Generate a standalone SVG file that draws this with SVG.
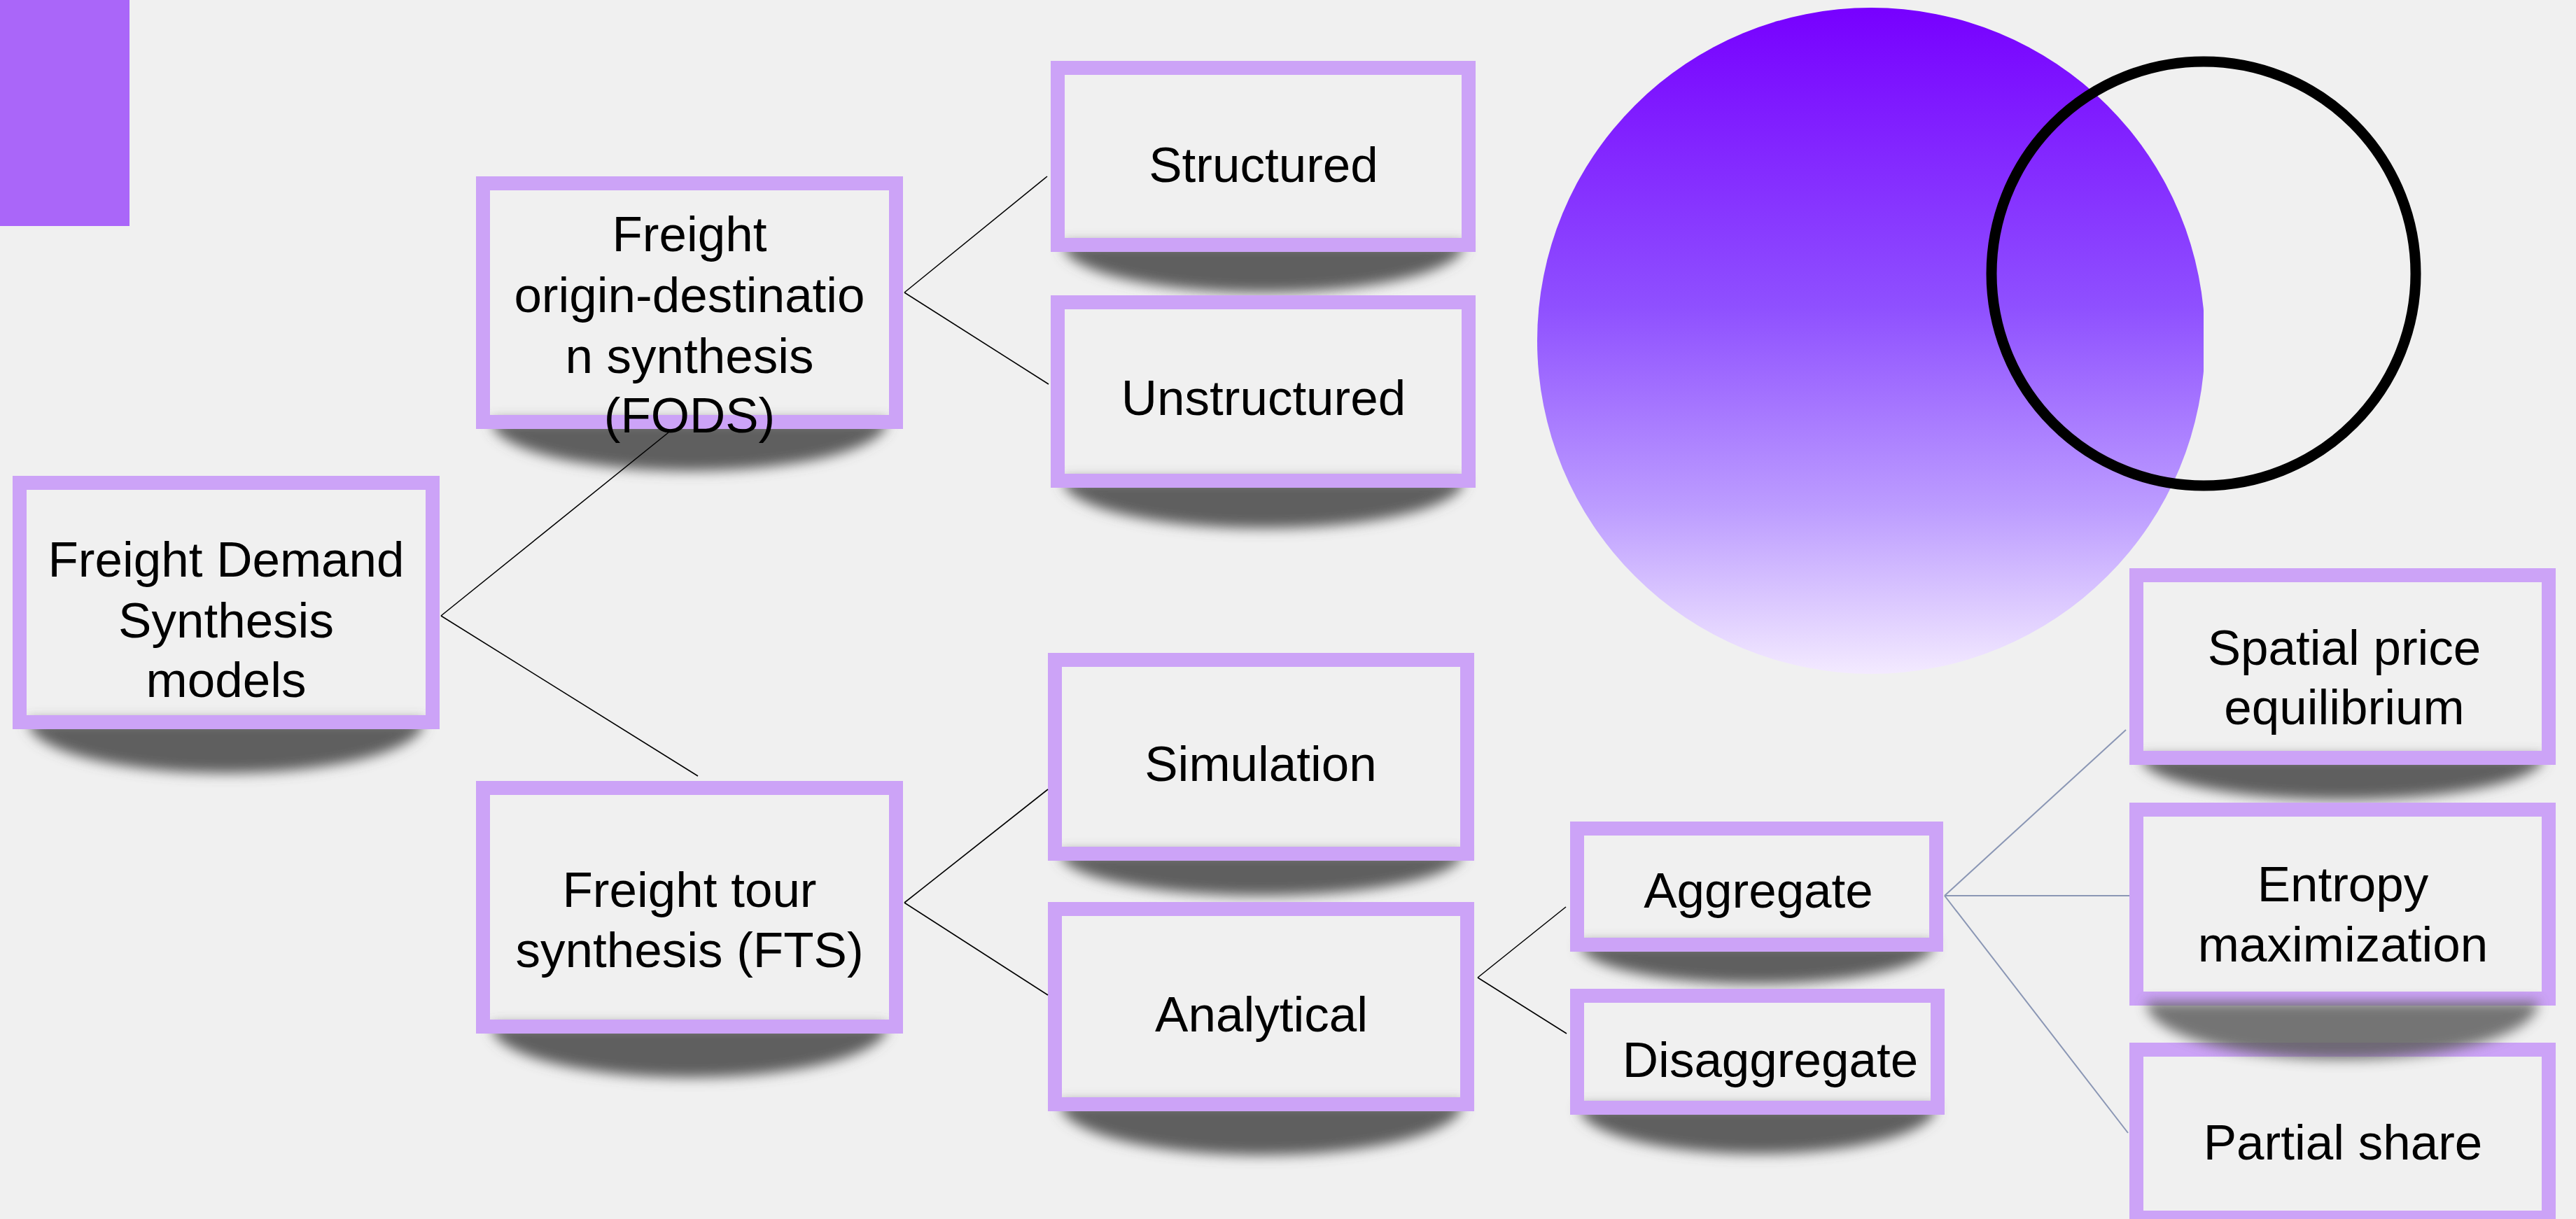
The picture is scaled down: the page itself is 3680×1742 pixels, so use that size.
<svg xmlns="http://www.w3.org/2000/svg" width="3680" height="1742" viewBox="0 0 3680 1742">
<defs>
<style>
.box{fill:none;stroke:#CCA3F7;stroke-width:20}
.sh{fill:#5E5E5E;filter:url(#blur)}
.t{font-family:"Liberation Sans",Arial,sans-serif;font-size:71px;fill:#000;text-anchor:middle}
.c1{stroke:#000;stroke-width:1.6;fill:none}
.c2{stroke:#8A96B4;stroke-width:2;fill:none}
</style>
<filter id="blur" x="-20%" y="-100%" width="140%" height="300%"><feGaussianBlur stdDeviation="9"/></filter>
<linearGradient id="g" x1="0" y1="0" x2="0" y2="1">
<stop offset="0" stop-color="#7700FF"/>
<stop offset="0.45" stop-color="#8F50FF"/>
<stop offset="0.75" stop-color="#BC9CFF"/>
<stop offset="1" stop-color="#F3EAFF"/>
</linearGradient>
<clipPath id="clipR"><rect x="0" y="0" width="3148" height="1742"/></clipPath>
</defs>
<rect width="3680" height="1742" fill="#F0F0F0"/>
<g id="decor">
<rect x="0" y="0" width="185" height="323" fill="#AA66F9"/>
<ellipse cx="2673" cy="487" rx="477" ry="476" fill="url(#g)" clip-path="url(#clipR)"/>
<circle cx="3148" cy="391" r="303" fill="none" stroke="#000" stroke-width="15"/>
</g>
<g id="node-root">
<path class="sh" d="M40,1030 A283,75 0 0 0 606,1030 Z"/>
<rect class="box" x="28" y="690" width="590" height="342"/>
<text class="t" x="323" y="824">Freight Demand</text>
<text class="t" x="323" y="911">Synthesis</text>
<text class="t" x="323" y="996">models</text>
</g>
<g id="node-fods">
<path class="sh" d="M702,601 A283,72 0 0 0 1268,601 Z"/>
<rect class="box" x="690" y="262" width="590" height="341"/>
<text class="t" x="985" y="359">Freight</text>
<text class="t" x="985" y="446">origin-destinatio</text>
<text class="t" x="985" y="533">n synthesis</text>
<text class="t" x="985" y="618">(FODS)</text>
</g>
<g id="node-fts">
<path class="sh" d="M702,1465 A283,75 0 0 0 1268,1465 Z"/>
<rect class="box" x="690" y="1126" width="590" height="341"/>
<text class="t" x="985" y="1296">Freight tour</text>
<text class="t" x="985" y="1382">synthesis (FTS)</text>
</g>
<g id="node-structured">
<path class="sh" d="M1518,348 A287,70 0 0 0 2092,348 Z"/>
<rect class="box" x="1511" y="97" width="587" height="253"/>
<text class="t" x="1805" y="260">Structured</text>
</g>
<g id="node-unstructured">
<path class="sh" d="M1518,685 A287,70 0 0 0 2092,685 Z"/>
<rect class="box" x="1511" y="432" width="587" height="255"/>
<text class="t" x="1805" y="593">Unstructured</text>
</g>
<g id="node-simulation">
<path class="sh" d="M1514,1218 A288,62 0 0 0 2090,1218 Z"/>
<rect class="box" x="1507" y="943" width="589" height="277"/>
<text class="t" x="1801" y="1116">Simulation</text>
</g>
<g id="node-analytical">
<path class="sh" d="M1514,1576 A288,75 0 0 0 2090,1576 Z"/>
<rect class="box" x="1507" y="1299" width="589" height="279"/>
<text class="t" x="1802" y="1474">Analytical</text>
</g>
<g id="node-aggregate">
<path class="sh" d="M2256,1348 A254,58 0 0 0 2764,1348 Z"/>
<rect class="box" x="2253" y="1184" width="513" height="166"/>
<text class="t" x="2512" y="1297">Aggregate</text>
</g>
<g id="node-disaggregate">
<path class="sh" d="M2256,1581 A255,68 0 0 0 2766,1581 Z"/>
<rect class="box" x="2253" y="1423" width="515" height="160"/>
<text class="t" x="2529" y="1539">Disaggregate</text>
</g>
<g id="node-spatial">
<path class="sh" d="M3058,1081 A288,62 0 0 0 3634,1081 Z"/>
<rect class="box" x="3052" y="822" width="589" height="261"/>
<text class="t" x="3349" y="950">Spatial price</text>
<text class="t" x="3349" y="1035">equilibrium</text>
</g>
<g id="node-partial">
<rect class="box" x="3052" y="1500" width="589" height="240"/>
<text class="t" x="3347" y="1657">Partial share</text>
</g>
<g id="node-entropy">
<rect class="box" x="3052" y="1157" width="589" height="270"/>
<text class="t" x="3347" y="1288">Entropy</text>
<text class="t" x="3347" y="1374">maximization</text>
<path class="sh" d="M3066,1432 A280,82 0 0 0 3626,1432 Z" opacity="0.85"/>
</g>
<g id="connectors">
<line class="c1" x1="630" y1="880" x2="955" y2="618"/>
<line class="c1" x1="630" y1="880" x2="997" y2="1109"/>
<line class="c1" x1="1292" y1="418" x2="1496" y2="252"/>
<line class="c1" x1="1292" y1="418" x2="1498" y2="549"/>
<line class="c1" x1="1292" y1="1290" x2="1497" y2="1128"/>
<line class="c1" x1="1292" y1="1290" x2="1497" y2="1422"/>
<line class="c1" x1="2111" y1="1397" x2="2237" y2="1296"/>
<line class="c1" x1="2111" y1="1397" x2="2238" y2="1477"/>
<line class="c2" x1="2778" y1="1280" x2="3037" y2="1043"/>
<line class="c2" x1="2778" y1="1280" x2="3042" y2="1280" stroke-width="3"/>
<line class="c2" x1="2778" y1="1280" x2="3040" y2="1619"/>
</g>
</svg>
